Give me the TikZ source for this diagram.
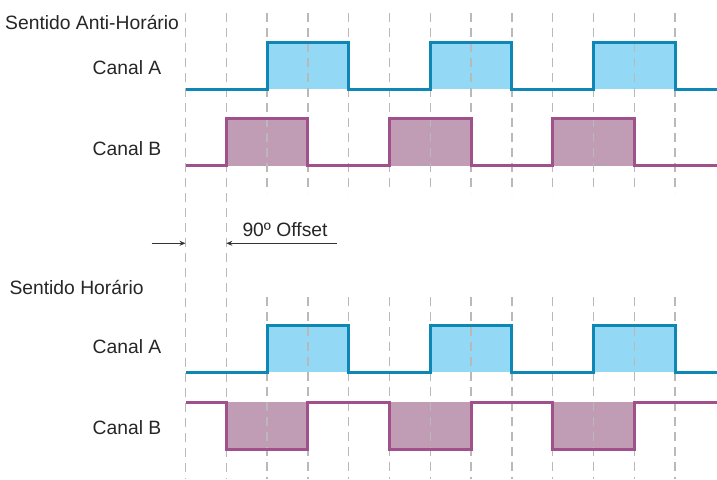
\documentclass[tikz,border=0pt]{standalone}
\usepackage{fontspec}
\setmainfont{Liberation Sans}
\usetikzlibrary{arrows.meta}
\definecolor{linhaA}{HTML}{0E87B5}
\definecolor{fundoA}{HTML}{93D8F5}
\definecolor{linhaB}{HTML}{A0508A}
\definecolor{fundoB}{HTML}{C19DB5}
\tikzset{
    grade/.style={gray!55, line width=1.4pt, dash pattern=on 9pt off 6pt},
    sinalA/.style={linhaA, line width=3pt},
    sinalB/.style={linhaB, line width=3pt},
    rotulo/.style={font=\fontsize{19.3}{23}\selectfont, text=black!85, inner sep=0pt},
    seta/.style={black!80, line width=0.9pt, -{Stealth[length=6pt,width=5pt]}}
}
\begin{document}
\begin{tikzpicture}[x=1pt, y=-1pt]
    \useasboundingbox (0,0) rectangle (717,479);
    % pulsos preenchidos
    \foreach \k in {2,6,10}{
        \fill[fundoA] ({185.5+40.8*\k},42.7) rectangle ({185.5+40.8*(\k+2)},89.3);
        \fill[fundoA] ({185.5+40.8*\k},325.7) rectangle ({185.5+40.8*(\k+2)},372.3);
    }
    \foreach \k in {1,5,9}{
        \fill[fundoB] ({185.5+40.8*\k},118.7) rectangle ({185.5+40.8*(\k+2)},165.7);
        \fill[fundoB] ({185.5+40.8*\k},402) rectangle ({185.5+40.8*(\k+2)},449);
    }
    % grade tracejada
    \foreach \k in {0,1}{
        \draw[grade] ({185.5+40.8*\k},13) -- ({185.5+40.8*\k},479);
    }
    \foreach \k in {2,...,12}{
        \draw[grade] ({185.5+40.8*\k},13) -- ({185.5+40.8*\k},193);
        \draw[grade] ({185.5+40.8*\k},297) -- ({185.5+40.8*\k},479);
    }
    % sentido anti-horario
    \draw[sinalA] (185.5,89.3) \foreach \k in {2,6,10}{
        -- ({185.5+40.8*\k},89.3) -- ({185.5+40.8*\k},42.7)
        -- ({185.5+40.8*(\k+2)},42.7) -- ({185.5+40.8*(\k+2)},89.3)} -- (717,89.3);
    \draw[sinalB] (185.5,165.7) \foreach \k in {1,5,9}{
        -- ({185.5+40.8*\k},165.7) -- ({185.5+40.8*\k},118.7)
        -- ({185.5+40.8*(\k+2)},118.7) -- ({185.5+40.8*(\k+2)},165.7)} -- (717,165.7);
    % sentido horario
    \draw[sinalA] (185.5,372.3) \foreach \k in {2,6,10}{
        -- ({185.5+40.8*\k},372.3) -- ({185.5+40.8*\k},325.7)
        -- ({185.5+40.8*(\k+2)},325.7) -- ({185.5+40.8*(\k+2)},372.3)} -- (717,372.3);
    \draw[sinalB] (185.5,402) \foreach \k in {1,5,9}{
        -- ({185.5+40.8*\k},402) -- ({185.5+40.8*\k},449)
        -- ({185.5+40.8*(\k+2)},449) -- ({185.5+40.8*(\k+2)},402)} -- (717,402);
    % textos
    \node[rotulo, anchor=base west] (antihor) at (5,29.3) {Sentido Anti-Horário};
    \node[rotulo, anchor=base east] (antiA) at (161.5,74) {Canal A};
    \node[rotulo, anchor=base east] (antiB) at (161.5,155) {Canal B};
    \node[rotulo, anchor=base west] (offset) at (242.3,236) {90º Offset};
    \node[rotulo, anchor=base west] (hor) at (9.3,294) {Sentido Horário};
    \node[rotulo, anchor=base east] (horA) at (161.5,353.3) {Canal A};
    \node[rotulo, anchor=base east] (horB) at (161.5,434) {Canal B};
    % setas do offset
    \coordinate (setaE) at (151.7,243.3);
    \coordinate (marca0) at (185.5,243.3);
    \coordinate (setaD) at (336.7,243.3);
    \coordinate (marca1) at (226.3,243.3);
    \draw[seta] (setaE) -- (marca0);
    \draw[seta] (setaD) -- (marca1);
\end{tikzpicture}
\end{document}
